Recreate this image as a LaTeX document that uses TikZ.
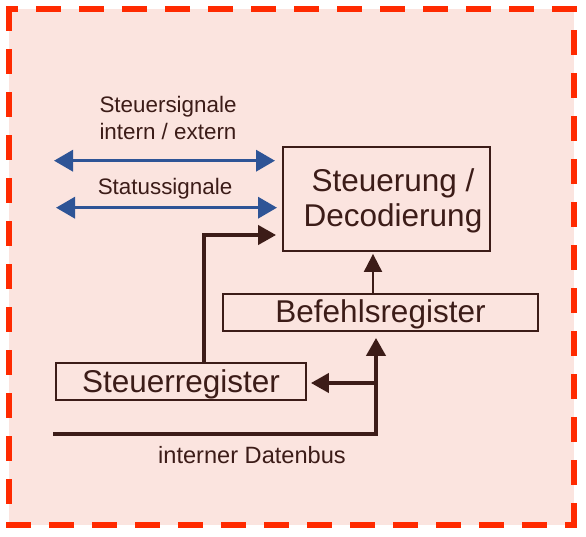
\documentclass[tikz,border=0pt]{standalone}
\usepackage{fontspec}
\setmainfont{Liberation Sans}
\usetikzlibrary{arrows.meta}
\definecolor{bg}{RGB}{251,228,223}
\definecolor{framered}{RGB}{255,42,0}
\definecolor{ink}{RGB}{60,28,24}
\definecolor{sigblue}{RGB}{46,84,150}
\begin{document}
\begin{tikzpicture}[x=1pt,y=-1pt,
  framedash/.style={draw=framered, line width=6pt, line cap=rect, dash pattern=on 19pt off 24pt},
  box/.style={draw=ink, line width=1.8pt, text=ink, inner sep=0pt, align=center, font=\fontsize{31.5}{35}\selectfont},
  sigarrow/.style={draw=sigblue, line width=3.5pt, {Triangle[length=19pt,width=21pt]}-{Triangle[length=19pt,width=21pt]}},
  busarrow/.style={draw=ink, line width=4pt, -{Triangle[length=18pt,width=19pt]}},
  thinarrow/.style={draw=ink, line width=2pt, -{Triangle[length=18pt,width=18pt]}},
  lbl/.style={text=ink, inner sep=0pt, align=center, font=\fontsize{22.4}{27}\selectfont}]
\useasboundingbox (0,0) rectangle (586,536);
% background and dashed frame
\fill[bg] (9,9) rectangle (574,525);
\draw[framedash] (9,9) -- (9,525);
\draw[framedash] (9,525) -- (574,525);
\draw[framedash] (574,525) -- (574,9);
\draw[framedash] (574,9) -- (9,9);
% boxes
\node[box, minimum width=207pt, minimum height=104pt] (steu) at (386.5,199)
  {\raisebox{-3pt}[\height][\depth]{\begin{tabular}{@{}c@{}}\hspace*{13pt}Steuerung /\\[-0.6pt]\hspace*{13pt}Decodierung\end{tabular}}};
\node[box, minimum width=315pt, minimum height=37pt, text height=20pt, text depth=0pt] (bef) at (380.5,312.5) {Befehlsregister};
\node[box, minimum width=250pt, minimum height=37pt, text height=22pt, text depth=0pt] (str) at (181,381.5) {Steuerregister};
% labels
\node[lbl, anchor=north] (lsig) at (168,96) {Steuersignale\\intern / extern};
\node[lbl, anchor=base] (lstat) at (165,194) {Statussignale};
\node[lbl, anchor=base, font=\fontsize{23.6}{27}\selectfont] (lbus) at (252,463) {interner Datenbus};
% signal arrows
\coordinate (s1l) at (54,160.7);
\coordinate (s1r) at (275,160.7);
\coordinate (s2l) at (56,207.7);
\coordinate (s2r) at (277,207.7);
\draw[sigarrow] (s1l) -- (s1r);
\draw[sigarrow] (s2l) -- (s2r);
% Steuerregister -> Steuerung
\coordinate (e1) at (204,235);
\draw[busarrow, shorten >=6pt] (str.north -| e1) -- (e1) -- (e1 -| steu.west);
% Befehlsregister -> Steuerung
\coordinate (t1) at (373,0);
\draw[thinarrow, shorten >=2pt] (bef.north -| t1) -- (steu.south -| t1);
% data bus
\coordinate (busL) at (53,434);
\coordinate (busC) at (376,434);
\coordinate (br) at (376,383);
\draw[busarrow, shorten >=6pt] (busL) -- (busC) -- (bef.south -| busC);
\draw[busarrow, shorten >=4pt] (br) -- (br -| str.east);
\end{tikzpicture}
\end{document}
